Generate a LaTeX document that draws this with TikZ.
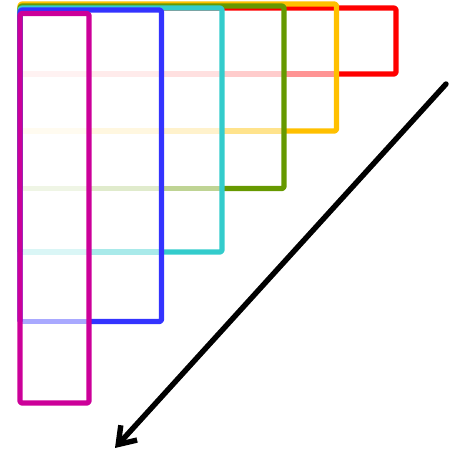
\documentclass[tikz,border=0pt]{standalone}
\usepackage{tikz}
\usetikzlibrary{arrows.meta}
\definecolor{rowRed}{HTML}{FF0000}
\definecolor{rowGold}{HTML}{FFC000}
\definecolor{rowGreen}{HTML}{669900}
\definecolor{rowCyan}{HTML}{33CCCC}
\definecolor{rowBlue}{HTML}{3333FF}
\definecolor{rowMagenta}{HTML}{CC0099}
\tikzset{
  frame/.style={
    line width=2.6mm,
    rounded corners=1mm,
    line cap=butt,
    line join=round},
  fade/.style={
    line width=2.6mm,
    line cap=butt}
}

\begin{document}
\begin{tikzpicture}[x=0.5mm, y=-0.5mm,
  arrow/.style={-{Straight Barb[length=8mm,width=11mm]}, line width=2.7mm,
                line cap=round, line join=round,
                preaction={draw=black!22, transform canvas={shift={(0.8mm,-0.8mm)}}}}
]
\useasboundingbox (0,0) rectangle (454,455);

%% ---- red row ----
\draw[fade, rowRed, opacity=0.42] (284,74) -- (336.5,74);
\draw[fade, rowRed, opacity=0.20] (222,74) -- (284,74);
\draw[fade, rowRed, opacity=0.12] (161.5,74) -- (222,74);
\draw[fade, rowRed, opacity=0.08] (89,74) -- (161.5,74);
\draw[fade, rowRed, opacity=0.05] (20,74) -- (89,74);
\draw[frame, rowRed] (20,74) -- (20,8) -- (396,8) -- (396,74) -- (336.5,74);

%% ---- gold row ----
\draw[fade, rowGold, opacity=0.45] (222,131) -- (284,131);
\draw[fade, rowGold, opacity=0.20] (161.5,131) -- (222,131);
\draw[fade, rowGold, opacity=0.12] (89,131) -- (161.5,131);
\draw[fade, rowGold, opacity=0.06] (20,131) -- (89,131);
\draw[frame, rowGold] (20,131) -- (20,4) -- (336.5,4) -- (336.5,131) -- (284,131);

%% ---- green row ----
\draw[fade, rowGreen, opacity=0.42] (161.5,188.5) -- (222,188.5);
\draw[fade, rowGreen, opacity=0.20] (89,188.5) -- (161.5,188.5);
\draw[fade, rowGreen, opacity=0.10] (20,188.5) -- (89,188.5);
\draw[frame, rowGreen] (20,188.5) -- (20,6) -- (284,6) -- (284,188.5) -- (222,188.5);

%% ---- cyan row ----
\draw[fade, rowCyan, opacity=0.42] (89,252) -- (161.5,252);
\draw[fade, rowCyan, opacity=0.18] (20,252) -- (89,252);
\draw[frame, rowCyan] (20,252) -- (20,8) -- (222,8) -- (222,252) -- (161.5,252);

%% ---- blue row ----
\draw[fade, rowBlue, opacity=0.42] (20,321.5) -- (89,321.5);
\draw[frame, rowBlue] (20,321.5) -- (20,10) -- (161.5,10) -- (161.5,321.5) -- (89,321.5);

%% ---- magenta row ----
\draw[frame, rowMagenta] (20,13.5) rectangle (89,403);

%% ---- direction arrow ----
\coordinate (arrowStart) at (446,84);
\coordinate (arrowTip)   at (115,448);
\draw[arrow] (arrowStart) -- (arrowTip);

\end{tikzpicture}
\end{document}
